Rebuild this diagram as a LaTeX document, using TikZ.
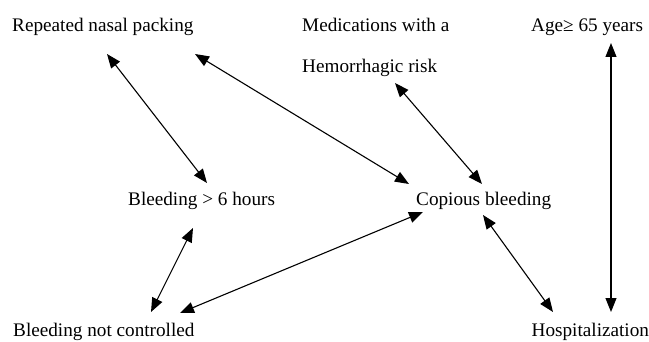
\documentclass[tikz,border=0pt]{standalone}
\usepackage{fontspec}
\setmainfont{Liberation Serif}
\usetikzlibrary{arrows.meta}
\begin{document}
\begin{tikzpicture}[x=1pt,y=1pt,
  lbl/.style={anchor=base west,inner sep=0pt,font=\fontsize{19.2}{22}\selectfont},
  arr/.style={{Triangle[length=14pt,width=11pt]}-{Triangle[length=14pt,width=11pt]},line width=1.1pt}]
\useasboundingbox (0,0) rectangle (649,341);
\node[lbl] (rnp) at (12,309) {Repeated nasal packing};
\node[lbl] (med) at (302,309) {Medications with a};
\node[lbl] (hem) at (302,268.5) {Hemorrhagic risk};
\node[lbl] (age) at (531,309) {Age≥ 65 years};
\node[lbl] (b6) at (128,135.5) {Bleeding > 6 hours};
\node[lbl] (cop) at (416,135.5) {Copious bleeding};
\node[lbl] (bnc) at (13,5) {Bleeding not controlled};
\node[lbl] (hos) at (531.5,5) {Hospitalization};
\draw[arr] ([shift={(95pt,-22pt)}]rnp.base west) -- ([shift={(79pt,22.5pt)}]b6.base west);
\draw[arr] ([shift={(183pt,-22pt)}]rnp.base west) -- ([shift={(-7pt,21.5pt)}]cop.base west);
\draw[arr] ([shift={(93pt,-10.5pt)}]hem.base west) -- ([shift={(66pt,21.5pt)}]cop.base west);
\draw[arr] ([shift={(67pt,-9.5pt)}]cop.base west) -- ([shift={(21.5pt,24pt)}]hos.base west);
\draw[arr] ([shift={(80pt,-11pt)}]age.base west) -- ([shift={(79.5pt,24pt)}]hos.base west);
\draw[arr] ([shift={(65pt,-22.5pt)}]b6.base west) -- ([shift={(138pt,24pt)}]bnc.base west);
\draw[arr] ([shift={(167pt,23pt)}]bnc.base west) -- ([shift={(7pt,-6.5pt)}]cop.base west);
\end{tikzpicture}
\end{document}
